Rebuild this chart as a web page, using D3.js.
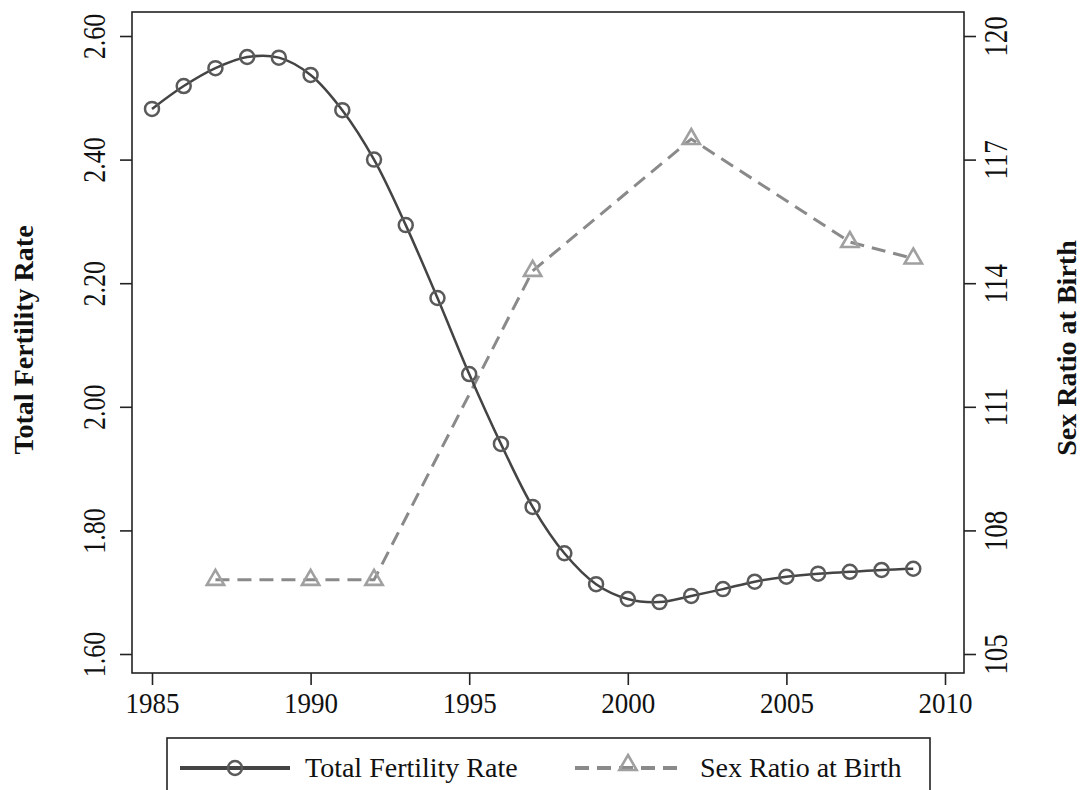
<!DOCTYPE html>
<html><head><meta charset="utf-8">
<script src="https://cdn.jsdelivr.net/npm/d3@7"></script>
<style>body{margin:0;background:#fff}svg{display:block}text{font-family:"Liberation Serif","Times New Roman",serif;fill:#111}</style>
</head><body><svg id="c" width="1083" height="790"></svg>
<script>
const tfrYears=[1985,1986,1987,1988,1989,1990,1991,1992,1993,1994,1995,1996,1997,1998,1999,2000,2001,2002,2003,2004,2005,2006,2007,2008,2009];
const tfrValues=[2.482,2.519,2.548,2.566,2.565,2.537,2.480,2.400,2.294,2.176,2.053,1.940,1.838,1.763,1.713,1.689,1.684,1.694,1.705,1.717,1.725,1.730,1.733,1.736,1.738];
const srbYears=[1987,1990,1992,1997,2002,2007,2009];
const srbValues=[106.8,106.8,106.8,114.3,117.5,115.0,114.6];
const xTicks=[1985,1990,1995,2000,2005,2010];
const leftTicks=[1.60,1.80,2.00,2.20,2.40,2.60];
const rightTicks=[105,108,111,114,117,120];

const svg=d3.select("#c");
const L=132,R=964,T=12,B=673;
const x=d3.scaleLinear().domain([1985,2010]).range([152,945]);
const yl=d3.scaleLinear().domain([1.60,2.60]).range([654,36]);
const yr=d3.scaleLinear().domain([105,120]).range([654,36]);

// frame
svg.append("rect").attr("x",L).attr("y",T).attr("width",R-L).attr("height",B-T)
  .attr("fill","none").attr("stroke","#222").attr("stroke-width",1.6);

// x axis
const gx=svg.append("g").attr("transform",`translate(0,${B})`)
  .call(d3.axisBottom(x).tickValues(xTicks).tickFormat(d3.format("d")).tickSize(12));
gx.select(".domain").remove();
gx.selectAll("line").attr("stroke","#222").attr("stroke-width",1.6);
gx.selectAll("text").attr("font-size",27).attr("font-family","Liberation Serif").attr("fill","#111")
  .attr("y",null).attr("dy",null).attr("transform","translate(0,40) scale(1,1.1)");

// left axis
const gl=svg.append("g").attr("transform",`translate(${L},0)`)
  .call(d3.axisLeft(yl).tickValues(leftTicks).tickFormat(d3.format(".2f")).tickSize(12));
gl.select(".domain").remove();
gl.selectAll("line").attr("stroke","#222").attr("stroke-width",1.6);
gl.selectAll("text").attr("font-size",26).attr("font-family","Liberation Serif").attr("fill","#111")
  .attr("text-anchor","middle").attr("x",null).attr("dy",null)
  .attr("transform","translate(-27,0) rotate(-90) scale(1,1.25)");

// right axis
const gr=svg.append("g").attr("transform",`translate(${R},0)`)
  .call(d3.axisRight(yr).tickValues(rightTicks).tickFormat(d3.format("d")).tickSize(12));
gr.select(".domain").remove();
gr.selectAll("line").attr("stroke","#222").attr("stroke-width",1.6);
gr.selectAll("text").attr("font-size",27).attr("font-family","Liberation Serif").attr("fill","#111")
  .attr("text-anchor","middle").attr("x",null).attr("dy",null)
  .attr("transform","translate(43,0) rotate(-90) scale(1,1.25)");

// axis titles
svg.append("text").attr("transform","translate(33,340) rotate(-90)").attr("text-anchor","middle")
  .attr("font-size",28).attr("font-weight","bold").text("Total Fertility Rate");
svg.append("text").attr("transform","translate(1076,348) rotate(-90)").attr("text-anchor","middle")
  .attr("font-size",28).attr("font-weight","bold").text("Sex Ratio at Birth");

// SRB line
const srb=srbYears.map((d,i)=>({x:d,y:srbValues[i]}));
svg.append("path").datum(srb)
  .attr("d",d3.line().x(d=>x(d.x)).y(d=>yr(d.y)))
  .attr("fill","none").attr("stroke","#8a8a8a").attr("stroke-width",3).attr("stroke-dasharray","14,8");
const tri=d3.symbol().type(d3.symbolTriangle).size(130);
svg.append("g").selectAll("path").data(srb).join("path")
  .attr("transform",d=>`translate(${x(d.x)},${yr(d.y)})`).attr("d",tri)
  .attr("fill","none").attr("stroke","#a0a0a0").attr("stroke-width",2.6);

// TFR line
const tfr=tfrYears.map((d,i)=>({x:d,y:tfrValues[i]}));
svg.append("path").datum(tfr)
  .attr("d",d3.line().x(d=>x(d.x)).y(d=>yl(d.y)).curve(d3.curveCatmullRom))
  .attr("fill","none").attr("stroke","#444").attr("stroke-width",2.5);
svg.append("g").selectAll("circle").data(tfr).join("circle")
  .attr("cx",d=>x(d.x)).attr("cy",d=>yl(d.y)).attr("r",7)
  .attr("fill","none").attr("stroke","#5a5a5a").attr("stroke-width",2.5);

// legend
const lg=svg.append("g");
lg.append("rect").attr("x",167).attr("y",738).attr("width",763).attr("height",70)
  .attr("fill","#fff").attr("stroke","#222").attr("stroke-width",1.6);
lg.append("line").attr("x1",180).attr("x2",290).attr("y1",768).attr("y2",768)
  .attr("stroke","#444").attr("stroke-width",4);
lg.append("circle").attr("cx",235).attr("cy",768).attr("r",7).attr("fill","none")
  .attr("stroke","#5a5a5a").attr("stroke-width",2.5);
lg.append("text").attr("x",305).attr("y",777).attr("font-size",28).text("Total Fertility Rate");
lg.append("line").attr("x1",575).attr("x2",682).attr("y1",768).attr("y2",768)
  .attr("stroke","#8a8a8a").attr("stroke-width",4).attr("stroke-dasharray","14,8");
lg.append("path").attr("transform","translate(628,765)").attr("d",tri)
  .attr("fill","none").attr("stroke","#a0a0a0").attr("stroke-width",2.6);
lg.append("text").attr("x",700).attr("y",777).attr("font-size",28).text("Sex Ratio at Birth");
</script></body></html>
